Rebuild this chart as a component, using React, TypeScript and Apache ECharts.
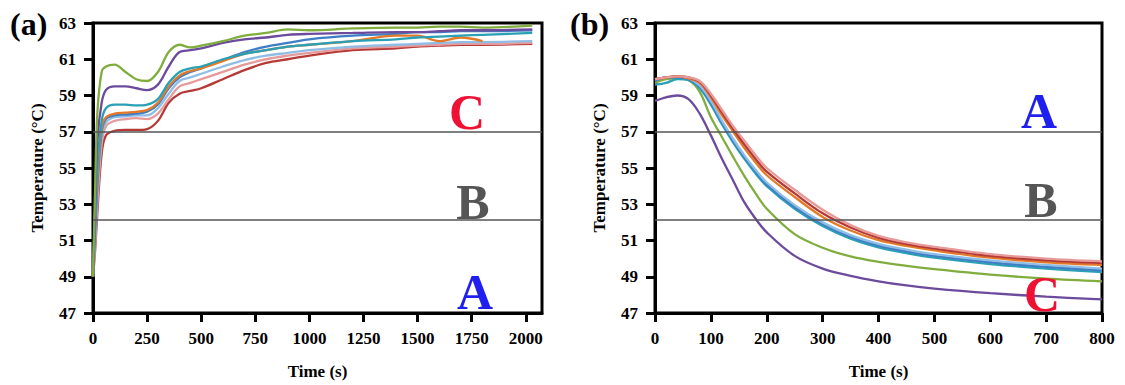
import React, { useEffect, useRef } from "react";
import * as echarts from "echarts";

// ---------- Panel (a): heating ----------
const TIME_A = [0, 10, 20, 40, 60, 100, 150, 200, 250, 300, 350, 400, 450, 500, 600, 700, 800, 900, 1000, 1200, 1400, 1500, 1600, 1700, 1800, 2030];
const A_GREEN = [49, 54, 58, 60.3, 60.6, 60.7, 60.3, 59.9, 59.8, 60.3, 61.4, 61.8, 61.65, 61.75, 62.0, 62.3, 62.45, 62.65, 62.6, 62.7, 62.75, 62.75, 62.8, 62.8, 62.75, 62.85];
const A_PURPLE = [49, 53, 56.5, 58.6, 59.3, 59.5, 59.5, 59.4, 59.3, 59.6, 60.6, 61.4, 61.5, 61.6, 61.9, 62.1, 62.2, 62.35, 62.4, 62.45, 62.5, 62.5, 62.55, 62.6, 62.6, 62.65];
const A_TEAL = [49, 52, 55, 57.6, 58.3, 58.5, 58.5, 58.45, 58.5, 58.8, 59.7, 60.3, 60.5, 60.6, 61.0, 61.3, 61.5, 61.7, 61.8, 62.0, 62.1, 62.2, 62.25, 62.3, 62.35, 62.45];
const A_ORANGE = [49, 52.5, 54.5, 57.2, 57.8, 58.0, 58.05, 58.1, 58.2, 58.6, 59.5, 60.1, 60.35, 60.5, 60.9, 61.3, 61.5, 61.7, 61.8, 62.0, 62.3, 62.3, 62.0, 62.2, 62.0, null];
const A_BLUE = [49, 51.5, 54, 57, 57.7, 57.9, 57.95, 58.0, 58.1, 58.5, 59.4, 60.0, 60.3, 60.5, 60.95, 61.4, 61.7, 61.9, 62.1, 62.3, 62.4, 62.5, 62.5, 62.55, 62.55, 62.6];
const A_LIGHTBLUE = [49, 51.2, 53.8, 56.7, 57.5, 57.8, 57.85, 57.9, 57.9, 58.3, 59.1, 59.8, 60.0, 60.2, 60.6, 60.95, 61.2, 61.35, 61.5, 61.7, 61.8, 61.85, 61.9, 61.95, 61.95, 62.0];
const A_PINK = [49, 50.8, 53, 56.3, 57.3, 57.6, 57.7, 57.75, 57.7, 58.0, 58.8, 59.5, 59.7, 59.9, 60.3, 60.7, 61.0, 61.2, 61.35, 61.6, 61.7, 61.75, 61.8, 61.85, 61.85, 61.9];
const A_DARKRED = [49, 50.5, 52.5, 55.8, 56.8, 57.05, 57.1, 57.1, 57.15, 57.6, 58.6, 59.1, 59.25, 59.4, 59.9, 60.4, 60.8, 61.0, 61.2, 61.5, 61.6, 61.7, 61.75, 61.8, 61.8, 61.85];

// ---------- Panel (b): cooling ----------
const TIME_B = [0, 20, 40, 60, 80, 100, 120, 140, 160, 180, 200, 250, 300, 350, 400, 450, 500, 600, 700, 800];
const B_PURPLE = [58.7, 58.9, 59.0, 58.8, 58.0, 56.8, 55.5, 54.3, 53.1, 52.2, 51.45, 50.15, 49.45, 49.05, 48.75, 48.52, 48.35, 48.1, 47.9, 47.75];
const B_GREEN = [59.7, 59.9, 59.95, 59.85, 59.2, 57.8, 56.7, 55.6, 54.55, 53.6, 52.75, 51.35, 50.6, 50.12, 49.82, 49.6, 49.42, 49.12, 48.9, 48.75];
const B_TEAL = [59.6, 59.7, 59.9, 59.85, 59.4, 58.5, 57.4, 56.4, 55.5, 54.7, 54.0, 52.75, 51.8, 51.1, 50.62, 50.3, 50.05, 49.7, 49.45, 49.25];
const B_BLUE = [59.8, 60.0, 60.0, 59.9, 59.5, 58.6, 57.5, 56.5, 55.6, 54.8, 54.1, 52.85, 51.9, 51.2, 50.72, 50.4, 50.15, 49.8, 49.55, 49.35];
const B_LIGHTBLUE = [59.9, 60.0, 60.05, 59.95, 59.55, 58.7, 57.6, 56.6, 55.7, 54.9, 54.2, 52.95, 52.0, 51.3, 50.82, 50.5, 50.25, 49.9, 49.65, 49.45];
const B_ORANGE = [59.9, 60.0, 60.05, 59.95, 59.7, 58.9, 57.9, 57.0, 56.1, 55.3, 54.6, 53.4, 52.3, 51.55, 51.02, 50.7, 50.45, 50.05, 49.8, 49.65];
const B_DARKRED = [59.9, 60.0, 60.05, 60.0, 59.75, 59.0, 58.05, 57.15, 56.3, 55.5, 54.8, 53.6, 52.5, 51.72, 51.15, 50.8, 50.55, 50.15, 49.9, 49.75];
const B_PINK = [59.9, 60.0, 60.05, 60.0, 59.8, 59.1, 58.2, 57.3, 56.5, 55.7, 55.0, 53.8, 52.7, 51.85, 51.25, 50.9, 50.65, 50.25, 50.0, 49.85];

// ---------- Axes / references ----------
const X_TICKS_A = [0, 250, 500, 750, 1000, 1250, 1500, 1750, 2000];
const X_TICKS_B = [0, 100, 200, 300, 400, 500, 600, 700, 800];
const Y_TICKS = [47, 49, 51, 53, 55, 57, 59, 61, 63];
const ZONE_LINES = [57, 52.15];

const COLORS = {
  green: "#80ad3e",
  purple: "#6c4a9c",
  teal: "#2aa0b5",
  orange: "#e37a28",
  blue: "#3f7ec6",
  lightblue: "#8fbde6",
  pink: "#e79a9a",
  darkred: "#b53a36",
};

const FONT = "Liberation Serif";

function pairs(times: number[], vals: (number | null)[]) {
  const out: number[][] = [];
  times.forEach((t, i) => {
    const v = vals[i];
    if (v !== null && v !== undefined) out.push([t, v]);
  });
  return out;
}

export default function App() {
  const ref = useRef<HTMLDivElement>(null);
  useEffect(() => {
    if (!ref.current) return;
    const chart = echarts.init(ref.current, null, { renderer: "svg" });

    const mkX = (idx: number, max: number, ticks: number[]) => ({
      type: "value",
      gridIndex: idx,
      min: 0,
      max,
      name: "Time (s)",
      nameLocation: "middle",
      nameGap: 50,
      nameTextStyle: { fontFamily: FONT, fontWeight: "bold", fontSize: 17, color: "#000" },
      axisLine: { show: true, onZero: false, lineStyle: { color: "#000", width: 3 } },
      axisTick: { show: true, length: 9, lineStyle: { color: "#000", width: 3 }, customValues: ticks },
      axisLabel: {
        fontFamily: FONT,
        fontWeight: "bold",
        fontSize: 17,
        color: "#000",
        margin: 17,
        customValues: ticks,
        formatter: (v: number) => String(v),
      },
      splitLine: { show: false },
    });
    const mkY = (idx: number) => ({
      type: "value",
      gridIndex: idx,
      min: 47,
      max: 63,
      interval: 2,
      name: "Temperature (°C)",
      nameLocation: "middle",
      nameGap: 47,
      nameTextStyle: { fontFamily: FONT, fontWeight: "bold", fontSize: 17, color: "#000" },
      axisLine: { show: true, onZero: false, lineStyle: { color: "#000", width: 3 } },
      axisTick: { show: true, length: 9, lineStyle: { color: "#000", width: 3 }, customValues: Y_TICKS },
      axisLabel: {
        fontFamily: FONT,
        fontWeight: "bold",
        fontSize: 17,
        color: "#000",
        margin: 17,
        customValues: Y_TICKS,
      },
      splitLine: { show: false },
    });

    const line = (name: string, idx: number, data: number[][], color: string, withRef = false) => {
      const s: any = {
        name,
        type: "line",
        xAxisIndex: idx,
        yAxisIndex: idx,
        data,
        smooth: 0.35,
        showSymbol: false,
        symbol: "none",
        lineStyle: { color, width: 2.3 },
        itemStyle: { color },
      };
      if (withRef) {
        s.markLine = {
          silent: true,
          symbol: "none",
          label: { show: false },
          lineStyle: { color: "#555", width: 1.5, type: "solid" },
          data: ZONE_LINES.map((v) => ({ yAxis: v })),
        };
      }
      return s;
    };

    const zoneText = (text: string, x: number, y: number, color: string) => ({
      type: "text",
      x,
      y,
      style: {
        text,
        fill: color,
        font: `bold 50px "${FONT}"`,
        textAlign: "center",
        textVerticalAlign: "middle",
      },
      z: 100,
    });

    chart.setOption({
      animation: false,
      backgroundColor: "#fff",
      grid: [
        { left: 93, top: 23, width: 449, height: 294, show: true, borderColor: "#000", borderWidth: 3, backgroundColor: "transparent" },
        { left: 655, top: 23, width: 447, height: 294, show: true, borderColor: "#000", borderWidth: 3, backgroundColor: "transparent" },
      ],
      xAxis: [mkX(0, 2075, X_TICKS_A), mkX(1, 800, X_TICKS_B)],
      yAxis: [mkY(0), mkY(1)],
      series: [
        line("a-darkred", 0, pairs(TIME_A, A_DARKRED), COLORS.darkred, true),
        line("a-pink", 0, pairs(TIME_A, A_PINK), COLORS.pink),
        line("a-lightblue", 0, pairs(TIME_A, A_LIGHTBLUE), COLORS.lightblue),
        line("a-blue", 0, pairs(TIME_A, A_BLUE), COLORS.blue),
        line("a-orange", 0, pairs(TIME_A, A_ORANGE), COLORS.orange),
        line("a-teal", 0, pairs(TIME_A, A_TEAL), COLORS.teal),
        line("a-purple", 0, pairs(TIME_A, A_PURPLE), COLORS.purple),
        line("a-green", 0, pairs(TIME_A, A_GREEN), COLORS.green),
        line("b-purple", 1, pairs(TIME_B, B_PURPLE), COLORS.purple, true),
        line("b-green", 1, pairs(TIME_B, B_GREEN), COLORS.green),
        line("b-teal", 1, pairs(TIME_B, B_TEAL), COLORS.teal),
        line("b-blue", 1, pairs(TIME_B, B_BLUE), COLORS.blue),
        line("b-lightblue", 1, pairs(TIME_B, B_LIGHTBLUE), COLORS.lightblue),
        line("b-orange", 1, pairs(TIME_B, B_ORANGE), COLORS.orange),
        line("b-darkred", 1, pairs(TIME_B, B_DARKRED), COLORS.darkred),
        line("b-pink", 1, pairs(TIME_B, B_PINK), COLORS.pink),
      ],
      graphic: [
        { type: "text", x: 10, y: 8, style: { text: "(a)", fill: "#000", font: `bold 32px "${FONT}"` } },
        { type: "text", x: 570, y: 8, style: { text: "(b)", fill: "#000", font: `bold 32px "${FONT}"` } },
        zoneText("C", 467, 112, "#ee1133"),
        zoneText("B", 473, 202, "#555555"),
        zoneText("A", 475, 292, "#1f1fee"),
        zoneText("A", 1039, 111, "#1f1fee"),
        zoneText("B", 1041, 200, "#555555"),
        zoneText("C", 1042, 294, "#ee1133"),
      ],
    });
    return () => chart.dispose();
  }, []);
  return (
    <div
      ref={ref}
      style={{ position: "absolute", left: 0, top: 0, width: 1125, height: 385, background: "#fff" }}
    />
  );
}
